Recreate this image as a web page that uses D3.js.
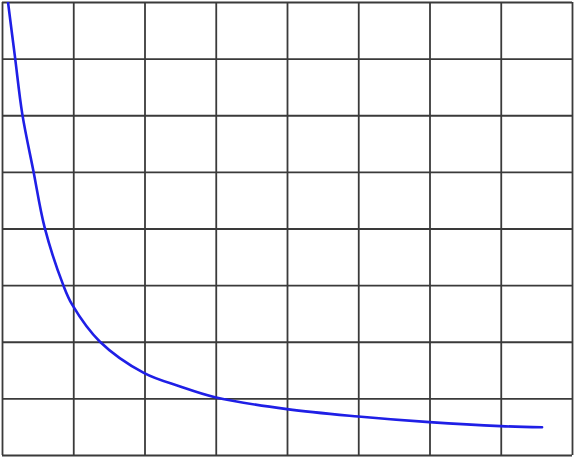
<!DOCTYPE html>
<html>
<head>
<meta charset="utf-8">
<script src="https://cdn.jsdelivr.net/npm/d3@7"></script>
<style>
  html, body { margin: 0; padding: 0; background: #fff; }
  svg { display: block; }
</style>
</head>
<body>
<svg id="chart" width="574" height="457"></svg>
<script>
// Grid tick values (cell units)
const xTicks = [0, 1, 2, 3, 4, 5, 6, 7, 8];
const yTicks = [0, 1, 2, 3, 4, 5, 6, 7, 8];
// Curve points (cell units)
const curveX = [0.084, 0.182, 0.285, 0.44, 0.60, 0.86, 0.987, 1.375, 1.99, 2.5, 2.99, 4.0, 5.0, 6.0, 7.0, 7.58];
const curveY = [8.0, 7.03, 6.02, 5.02, 4.01, 3.0, 2.65, 2.0, 1.45, 1.21, 1.02, 0.81, 0.68, 0.58, 0.51, 0.49];

(function () {
  const svg = d3.select("#chart");
  const mLeft = 2, mRight = 572, mTop = 2, mBottom = 455;

  const x = d3.scaleLinear().domain([0, 8]).range([mLeft, mRight]);
  const y = d3.scaleLinear().domain([0, 8]).range([mBottom, mTop]);

  svg.append("defs").append("clipPath").attr("id", "clip")
    .append("rect").attr("x", mLeft).attr("y", mTop)
    .attr("width", mRight - mLeft).attr("height", mBottom - mTop);

  const gx = svg.append("g")
    .attr("transform", `translate(0,${mBottom})`)
    .call(d3.axisBottom(x).tickValues(xTicks).tickSize(-(mBottom - mTop)).tickFormat(""));
  const gy = svg.append("g")
    .attr("transform", `translate(${mLeft},0)`)
    .call(d3.axisLeft(y).tickValues(yTicks).tickSize(-(mRight - mLeft)).tickFormat(""));

  [gx, gy].forEach(g => {
    g.select(".domain").remove();
    g.selectAll(".tick line").attr("stroke", "#3a3a3a").attr("stroke-width", 1.8);
  });

  const data = curveX.map((v, i) => [v, curveY[i]]);
  const line = d3.line()
    .x(d => x(d[0]))
    .y(d => y(d[1]))
    .curve(d3.curveCatmullRom.alpha(0.5));

  svg.append("path")
    .datum(data)
    .attr("clip-path", "url(#clip)")
    .attr("fill", "none")
    .attr("stroke", "#1f1fe6")
    .attr("stroke-width", 2.6)
    .attr("stroke-linecap", "round")
    .attr("d", line);
})();
</script>
</body>
</html>
